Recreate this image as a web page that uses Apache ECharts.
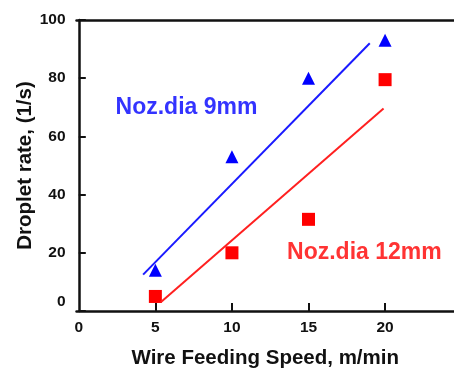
<!DOCTYPE html>
<html>
<head>
<meta charset="utf-8">
<script src="https://cdn.jsdelivr.net/npm/echarts@6/dist/echarts.min.js"></script>
<style>
html, body { margin: 0; padding: 0; background: #fff; }
#main { width: 454px; height: 369px; }
</style>
</head>
<body>
<div id="main"></div>
<script>
// measured points
var speed = [5, 10, 15, 20];
var rate_9mm = [14, 53, 80, 93];
var rate_12mm = [5, 20, 31.5, 79.5];
// fitted lines (start / end)
var fit_9mm = [[4.2, 12.5], [19, 92]];
var fit_12mm = [[5.35, 3], [19.9, 69.6]];
var x_labels = [0, 5, 10, 15, 20];
var x_ticks = [5, 10, 15, 20];
var label_9mm = [[2.4, 70]];
var label_12mm = [[13.6, 20]];

var FONT = 'Liberation Sans';

function pairs(xs, ys) {
    var out = [];
    for (var i = 0; i < xs.length; i++) { out.push([xs[i], ys[i]]); }
    return out;
}

var myChart = echarts.init(document.getElementById('main'));
var option = {
    animation: false,
    grid: { left: 76.5, right: 0, top: 20, bottom: 58, containLabel: false, outerBoundsMode: 'none' },
    xAxis: [
        {
        type: 'value',
        min: -0.15,
        max: 24.5,
        name: 'Wire Feeding Speed, m/min',
        nameLocation: 'middle',
        nameGap: 37,
        nameMoveOverlap: false,
        nameTextStyle: { fontFamily: FONT, fontSize: 20.5, fontWeight: 'bold', color: '#111' },
        axisLine: { lineStyle: { color: '#111', width: 2.5 } },
        axisTick: { inside: true, length: 8, lineStyle: { color: '#111', width: 2 }, customValues: x_ticks },
        axisLabel: { margin: 9, fontFamily: FONT, fontSize: 15.5, fontWeight: 'bold', color: '#111', customValues: x_labels },
        splitLine: { show: false }
    },
        {
        type: 'value',
        position: 'top',
        min: -0.15,
        max: 24.5,
        axisLine: { show: true, lineStyle: { color: '#111', width: 2.5 } },
        axisTick: { show: false },
        axisLabel: { show: false },
        splitLine: { show: false }
    }
    ],
    yAxis: {
        type: 'value',
        min: 0,
        max: 100,
        interval: 20,
        name: 'Droplet rate, (1/s)',
        nameLocation: 'middle',
        nameGap: 41,
        nameMoveOverlap: false,
        nameTextStyle: { fontFamily: FONT, fontSize: 20.5, fontWeight: 'bold', color: '#111' },
        axisLine: { show: true, lineStyle: { color: '#111', width: 2.5 } },
        axisTick: { inside: true, length: 7, lineStyle: { color: '#111', width: 2 } },
        axisLabel: {
            margin: 11,
            fontFamily: FONT, fontSize: 15.5, fontWeight: 'bold', color: '#111',
            formatter: function (v) { return v === 0 ? '{z|0}' : String(v); },
            rich: { z: { fontFamily: FONT, fontSize: 15.5, fontWeight: 'bold', color: '#111', padding: [0, 0, 18, 0] } }
        },
        splitLine: { show: false }
    },
    series: [
        {
        name: 'fit 9mm', type: 'line', data: fit_9mm, symbol: 'none',
        lineStyle: { color: '#1a1aff', width: 2 }
    },
        {
        name: 'fit 12mm', type: 'line', data: fit_12mm, symbol: 'none',
        lineStyle: { color: '#ff2020', width: 2 }
    },
        {
        name: 'Noz.dia 9mm', type: 'scatter', data: pairs(speed, rate_9mm),
        symbol: 'triangle', symbolSize: 13, itemStyle: { color: '#0000ff', opacity: 1 }
    },
        {
        name: 'Noz.dia 12mm', type: 'scatter', data: pairs(speed, rate_12mm),
        symbol: 'rect', symbolSize: 13, itemStyle: { color: '#ff0000', opacity: 1 }
    },
        {
        type: 'scatter', data: label_9mm, symbolSize: 0, silent: true,
        label: { show: true, position: 'right', distance: 0, formatter: 'Noz.dia 9mm',
            fontFamily: FONT, fontSize: 23, fontWeight: 'bold', color: '#0000ff' }
    },
        {
        type: 'scatter', data: label_12mm, symbolSize: 0, silent: true,
        label: { show: true, position: 'right', distance: 0, formatter: 'Noz.dia 12mm',
            fontFamily: FONT, fontSize: 23, fontWeight: 'bold', color: '#ff0000' }
    }
    ]
};
myChart.setOption(option);
</script>
</body>
</html>
